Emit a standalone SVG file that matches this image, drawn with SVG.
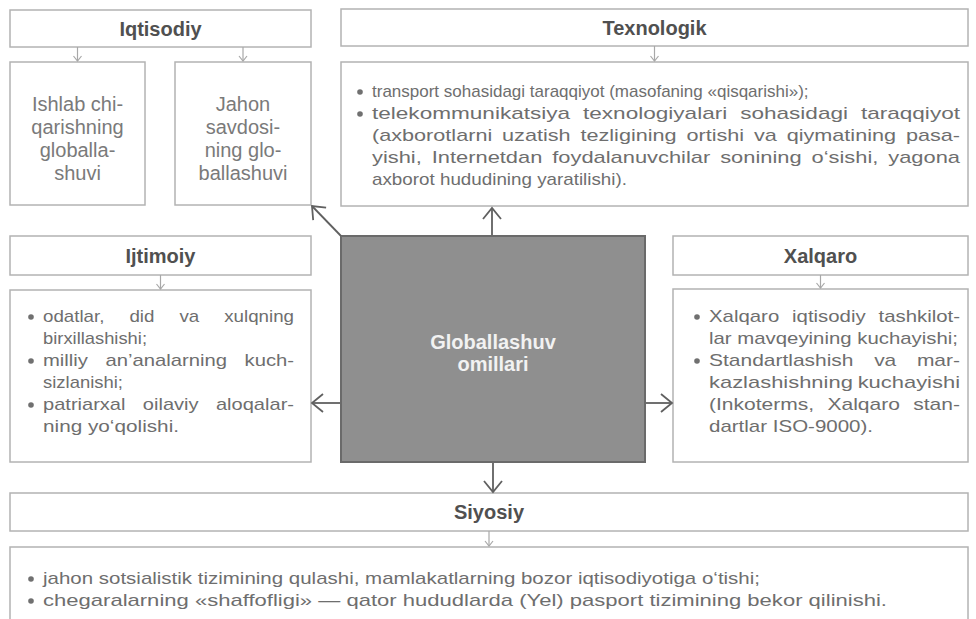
<svg xmlns="http://www.w3.org/2000/svg" width="976" height="619" viewBox="0 0 976 619">
<style>
.box{fill:#fff;stroke:#b3b3b3;stroke-width:1.5}
.hdr{font-family:"Liberation Sans",Arial,sans-serif;font-size:20px;font-weight:bold;fill:#505050;text-anchor:middle}
.sub{font-family:"Liberation Sans",Arial,sans-serif;font-size:20px;fill:#7a7a7a;text-anchor:middle}
.lst{font-family:"Liberation Sans",Arial,sans-serif;font-size:17px;fill:#6e6e6e}
.ctr{font-family:"Liberation Sans",Arial,sans-serif;font-size:20px;font-weight:bold;fill:#f2f2f2;text-anchor:middle}
.dot{fill:#707070}
.thin{stroke:#a8a8a8;stroke-width:1.2;fill:none}
.main{stroke:#606060;stroke-width:1.8;fill:none}
</style>
<defs>
<marker id="sm" markerUnits="userSpaceOnUse" markerWidth="10" markerHeight="10" refX="6" refY="5" orient="auto">
<path d="M1,1 L6,5 L1,9" fill="none" stroke="#a8a8a8" stroke-width="1.2"/>
</marker>
<marker id="big" markerUnits="userSpaceOnUse" markerWidth="16" markerHeight="22" refX="13" refY="11" orient="auto">
<path d="M2,2 L13,11 L2,20" fill="none" stroke="#606060" stroke-width="1.8"/>
</marker>
</defs>

<g id="iqtisodiy">
<rect class="box" x="10" y="10" width="301" height="37"/>
<text class="hdr" x="160.5" y="35.5">Iqtisodiy</text>
</g>
<g id="ishlab">
<rect class="box" x="10" y="62" width="135" height="143"/>
<text class="sub" x="77.5" y="111">Ishlab chi-</text>
<text class="sub" x="77.5" y="134">qarishning</text>
<text class="sub" x="77.5" y="157">globalla-</text>
<text class="sub" x="77.5" y="180">shuvi</text>
</g>
<g id="jahon">
<rect class="box" x="175" y="62" width="136" height="143"/>
<text class="sub" x="243" y="111">Jahon</text>
<text class="sub" x="243" y="134">savdosi-</text>
<text class="sub" x="243" y="157">ning glo-</text>
<text class="sub" x="243" y="180">ballashuvi</text>
</g>

<g id="texnologik">
<rect class="box" x="341" y="9" width="627" height="37"/>
<text class="hdr" x="654.5" y="34.5">Texnologik</text>
</g>
<g id="texnologik-list">
<rect class="box" x="341" y="62" width="627" height="144"/>
<circle class="dot" cx="360" cy="92" r="2.8"/>
<circle class="dot" cx="360" cy="114" r="2.8"/>
<text class="lst" x="372" y="97">transport sohasidagi taraqqiyot (masofaning «qisqarishi»);</text>
<text class="lst" x="372" y="119" textLength="588" lengthAdjust="spacingAndGlyphs" word-spacing="5">telekommunikatsiya texnologiyalari sohasidagi taraqqiyot</text>
<text class="lst" x="372" y="141" textLength="588" lengthAdjust="spacingAndGlyphs" word-spacing="3">(axborotlarni uzatish tezligining ortishi va qiymatining pasa-</text>
<text class="lst" x="372" y="163" textLength="588" lengthAdjust="spacingAndGlyphs" word-spacing="3">yishi, Internetdan foydalanuvchilar sonining o‘sishi, yagona</text>
<text class="lst" x="372" y="185" textLength="255" lengthAdjust="spacingAndGlyphs">axborot hududining yaratilishi).</text>
</g>

<g id="ijtimoiy">
<rect class="box" x="10" y="236" width="301" height="39"/>
<text class="hdr" x="160.5" y="262.5">Ijtimoiy</text>
</g>
<g id="ijtimoiy-list">
<rect class="box" x="10" y="290" width="301" height="172"/>
<circle class="dot" cx="31" cy="317" r="2.8"/>
<circle class="dot" cx="31" cy="361" r="2.8"/>
<circle class="dot" cx="31" cy="405" r="2.8"/>
<text class="lst" x="43" y="322" textLength="251" lengthAdjust="spacingAndGlyphs" word-spacing="18">odatlar, did va xulqning</text>
<text class="lst" x="43" y="344" textLength="104" lengthAdjust="spacingAndGlyphs">birxillashishi;</text>
<text class="lst" x="43" y="366" textLength="251" lengthAdjust="spacingAndGlyphs" word-spacing="10">milliy an’analarning kuch-</text>
<text class="lst" x="43" y="388" textLength="80" lengthAdjust="spacingAndGlyphs">sizlanishi;</text>
<text class="lst" x="43" y="410" textLength="251" lengthAdjust="spacingAndGlyphs" word-spacing="10">patriarxal oilaviy aloqalar-</text>
<text class="lst" x="43" y="432" textLength="136" lengthAdjust="spacingAndGlyphs">ning yo‘qolishi.</text>
</g>

<g id="markaz">
<rect x="341" y="236" width="304" height="226" fill="#8f8f8f" stroke="#6a6a6a" stroke-width="2"/>
<text class="ctr" x="493" y="349">Globallashuv</text>
<text class="ctr" x="493" y="371">omillari</text>
</g>

<g id="xalqaro">
<rect class="box" x="673" y="236" width="295" height="39"/>
<text class="hdr" x="820.5" y="262.5">Xalqaro</text>
</g>
<g id="xalqaro-list">
<rect class="box" x="673" y="289" width="295" height="173"/>
<circle class="dot" cx="697" cy="317" r="2.8"/>
<circle class="dot" cx="697" cy="361" r="2.8"/>
<text class="lst" x="709" y="322" textLength="251" lengthAdjust="spacingAndGlyphs" word-spacing="6">Xalqaro iqtisodiy tashkilot-</text>
<text class="lst" x="709" y="344" textLength="249" lengthAdjust="spacingAndGlyphs">lar mavqeyining kuchayishi;</text>
<text class="lst" x="709" y="366" textLength="251" lengthAdjust="spacingAndGlyphs" word-spacing="12">Standartlashish va mar-</text>
<text class="lst" x="709" y="388" textLength="251" lengthAdjust="spacingAndGlyphs" word-spacing="-1">kazlashishning kuchayishi</text>
<text class="lst" x="709" y="410" textLength="251" lengthAdjust="spacingAndGlyphs" word-spacing="6">(Inkoterms, Xalqaro stan-</text>
<text class="lst" x="709" y="432" textLength="164" lengthAdjust="spacingAndGlyphs">dartlar ISO-9000).</text>
</g>

<g id="siyosiy">
<rect class="box" x="10" y="493" width="958" height="38"/>
<text class="hdr" x="489" y="519">Siyosiy</text>
</g>
<g id="siyosiy-list">
<rect class="box" x="10" y="547" width="958" height="95"/>
<circle class="dot" cx="31" cy="579" r="2.8"/>
<circle class="dot" cx="31" cy="601" r="2.8"/>
<text class="lst" x="43" y="584" textLength="717" lengthAdjust="spacingAndGlyphs">jahon sotsialistik tizimining qulashi, mamlakatlarning bozor iqtisodiyotiga o‘tishi;</text>
<text class="lst" x="43" y="606" textLength="844" lengthAdjust="spacingAndGlyphs">chegaralarning «shaffofligi» — qator hududlarda (Yel) pasport tizimining bekor qilinishi.</text>
</g>

<g id="connectors">
<line class="thin" x1="77.5" y1="47" x2="77.5" y2="61" marker-end="url(#sm)"/>
<line class="thin" x1="243" y1="47" x2="243" y2="61" marker-end="url(#sm)"/>
<line class="thin" x1="654.5" y1="46" x2="654.5" y2="61" marker-end="url(#sm)"/>
<line class="thin" x1="160.5" y1="275" x2="160.5" y2="289" marker-end="url(#sm)"/>
<line class="thin" x1="820.5" y1="275" x2="820.5" y2="288" marker-end="url(#sm)"/>
<line class="thin" x1="489" y1="531" x2="489" y2="546" marker-end="url(#sm)"/>
<line class="main" x1="492" y1="235" x2="492" y2="208" marker-end="url(#big)"/>
<line class="main" x1="341" y1="236" x2="312" y2="206" marker-end="url(#big)"/>
<line class="main" x1="340" y1="403" x2="312" y2="403" marker-end="url(#big)"/>
<line class="main" x1="646" y1="403" x2="672" y2="403" marker-end="url(#big)"/>
<line class="main" x1="493" y1="463" x2="493" y2="492" marker-end="url(#big)"/>
</g>
</svg>
